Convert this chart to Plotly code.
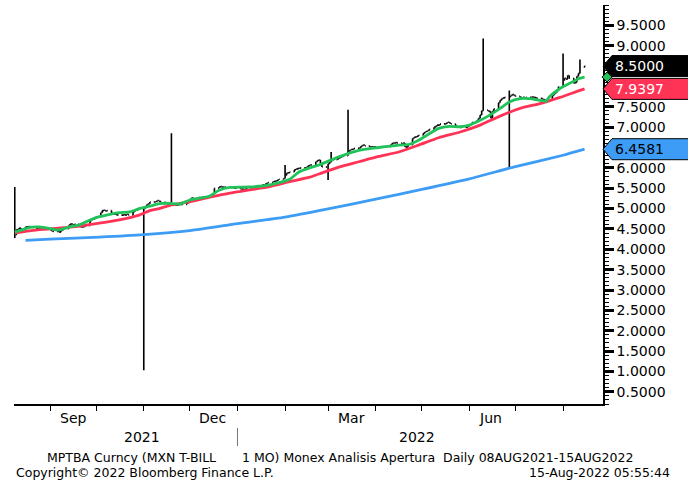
import pandas as pd
import plotly.graph_objects as go

# ---------------- data ----------------
start_date = "2021-08-09"
end_date = "2022-08-15"

# daily closes, one row per week (Mon..Fri)
weekly_closes = [
    [4.35, 4.48, 4.50, 4.52, 4.50],   # Aug 9
    [4.55, 4.55, 4.56, 4.54, 4.55],   # Aug 16
    [4.52, 4.52, 4.53, 4.52, 4.52],   # Aug 23
    [4.52, 4.50, 4.48, 4.45, 4.44],   # Aug 30
    [4.44, 4.42, 4.46, 4.48, 4.50],   # Sep 6
    [4.58, 4.62, 4.62, 4.60, 4.62],   # Sep 13
    [4.56, 4.55, 4.55, 4.56, 4.58],   # Sep 20
    [4.70, 4.75, 4.74, 4.78, 4.80],   # Sep 27
    [4.90, 4.95, 4.96, 4.94, 4.95],   # Oct 4
    [4.88, 4.86, 4.86, 4.85, 4.84],   # Oct 11
    [4.84, 4.85, 4.84, 4.86, 4.84],   # Oct 18
    [4.92, 4.95, 4.96, 4.98, 5.00],   # Oct 25
    [5.00, 5.05, 5.10, 5.12, 5.16],   # Nov 1
    [5.16, 5.18, 5.20, 5.18, 5.16],   # Nov 8
    [5.14, 5.12, 5.10, 5.10, 5.08],   # Nov 15
    [5.08, 5.09, 5.10, 5.10, 5.10],   # Nov 22
    [5.13, 5.15, 5.22, 5.26, 5.26],   # Nov 29
    [5.26, 5.27, 5.26, 5.28, 5.28],   # Dec 6
    [5.30, 5.30, 5.31, 5.36, 5.50],   # Dec 13
    [5.53, 5.54, 5.53, 5.52, 5.53],   # Dec 20
    [5.53, 5.52, 5.52, 5.50, 5.50],   # Dec 27
    [5.48, 5.48, 5.47, 5.48, 5.50],   # Jan 3
    [5.52, 5.53, 5.53, 5.54, 5.55],   # Jan 10
    [5.58, 5.58, 5.60, 5.62, 5.64],   # Jan 17
    [5.66, 5.67, 5.68, 5.70, 5.72],   # Jan 24
    [5.74, 5.82, 5.87, 5.88, 5.90],   # Jan 31
    [5.95, 5.97, 5.98, 5.99, 6.00],   # Feb 7
    [6.00, 6.02, 6.05, 6.07, 6.07],   # Feb 14
    [6.15, 6.18, 6.19, 6.10, 6.02],   # Feb 21
    [6.02, 6.10, 6.14, 6.18, 6.20],   # Feb 28
    [6.22, 6.24, 6.26, 6.28, 6.30],   # Mar 7
    [6.40, 6.43, 6.45, 6.46, 6.48],   # Mar 14
    [6.48, 6.52, 6.55, 6.56, 6.54],   # Mar 21
    [6.52, 6.51, 6.52, 6.51, 6.51],   # Mar 28
    [6.51, 6.52, 6.51, 6.51, 6.52],   # Apr 4
    [6.58, 6.61, 6.61, 6.62, 6.61],   # Apr 11
    [6.60, 6.61, 6.52, 6.51, 6.56],   # Apr 18
    [6.72, 6.75, 6.76, 6.78, 6.80],   # Apr 25
    [6.85, 6.88, 6.90, 6.92, 6.95],   # May 2
    [7.00, 7.02, 7.05, 7.05, 7.08],   # May 9
    [7.08, 7.10, 7.12, 7.10, 7.08],   # May 16
    [7.02, 7.00, 7.00, 6.99, 7.00],   # May 23
    [7.00, 7.02, 7.05, 7.08, 7.12],   # May 30
    [7.17, 7.22, 7.30, 7.40, 7.42],   # Jun 6
    [7.40, 7.38, 7.22, 7.39, 7.45],   # Jun 13
    [7.60, 7.66, 7.70, 7.72, 7.73],   # Jun 20
    [7.75, 7.78, 7.80, 7.78, 7.76],   # Jun 27
    [7.73, 7.72, 7.73, 7.72, 7.73],   # Jul 4
    [7.73, 7.74, 7.73, 7.72, 7.71],   # Jul 11
    [7.70, 7.68, 7.66, 7.66, 7.68],   # Jul 18
    [7.78, 7.82, 7.85, 7.90, 7.99],   # Jul 25
    [8.15, 8.20, 8.18, 8.27, 8.20],   # Aug 1
    [8.08, 8.10, 8.25, 8.32, 8.47],   # Aug 8
    [8.50],                           # Aug 15
]
first_open = 4.45

# intraday outliers
high_spike_dates = ["2021-08-09", "2021-11-19", "2022-02-01", "2022-03-03", "2022-03-14",
                    "2022-06-10", "2022-06-27", "2022-08-01", "2022-08-12"]
high_spike_vals = [5.53, 6.85, 6.07, 6.39, 7.43, 9.18, 7.90, 8.81, 8.66]
low_spike_dates = ["2021-08-09", "2021-11-01", "2022-03-01", "2022-06-27"]
low_spike_vals = [4.28, 1.03, 5.70, 5.97]

# moving averages
green_dates = ["2021-08-09", "2021-08-19", "2021-08-25", "2021-09-01", "2021-09-06", "2021-09-14",
               "2021-09-20", "2021-09-27", "2021-10-03", "2021-10-10", "2021-10-16", "2021-10-23",
               "2021-10-29", "2021-11-05", "2021-11-11", "2021-11-18", "2021-11-24", "2021-12-01",
               "2021-12-14", "2021-12-20", "2021-12-27", "2022-01-09", "2022-01-22", "2022-02-04",
               "2022-02-10", "2022-02-17", "2022-02-23", "2022-03-08", "2022-03-21", "2022-04-03",
               "2022-04-16", "2022-04-23", "2022-04-29", "2022-05-12", "2022-05-19", "2022-05-26",
               "2022-06-01", "2022-06-08", "2022-06-14", "2022-06-21", "2022-06-27", "2022-07-04",
               "2022-07-10", "2022-07-17", "2022-07-21", "2022-07-23", "2022-07-30", "2022-08-05",
               "2022-08-11", "2022-08-15"]
green_vals = [4.42, 4.54, 4.55, 4.51, 4.47, 4.55,
              4.60, 4.72, 4.80, 4.86, 4.90, 4.92,
              5.00, 5.06, 5.12, 5.13, 5.11, 5.21,
              5.31, 5.45, 5.52, 5.53, 5.58, 5.72,
              5.90, 6.00, 6.07, 6.27, 6.43, 6.50,
              6.56, 6.58, 6.68, 6.97, 7.02, 7.01,
              7.05, 7.17, 7.29, 7.46, 7.62, 7.70,
              7.70, 7.66, 7.64, 7.74, 7.95, 8.07,
              8.19, 8.23]

red_dates = ["2021-08-09", "2021-08-20", "2021-09-01", "2021-09-20", "2021-10-03", "2021-10-16",
             "2021-10-29", "2021-11-05", "2021-11-11", "2021-11-18", "2021-12-01", "2021-12-14",
             "2021-12-27", "2022-01-09", "2022-01-22", "2022-02-04", "2022-02-17", "2022-02-23",
             "2022-03-08", "2022-03-21", "2022-04-03", "2022-04-16", "2022-04-29", "2022-05-12",
             "2022-05-26", "2022-06-08", "2022-06-21", "2022-07-04", "2022-07-17", "2022-07-30",
             "2022-08-11", "2022-08-15"]
red_vals = [4.40, 4.46, 4.50, 4.57, 4.64, 4.72,
            4.84, 4.95, 5.00, 5.08, 5.17, 5.28,
            5.38, 5.46, 5.54, 5.66, 5.77, 5.85,
            6.02, 6.15, 6.28, 6.39, 6.56, 6.74,
            6.88, 7.05, 7.27, 7.46, 7.58, 7.73,
            7.89, 7.9397]

blue_dates = ["2021-08-16", "2021-09-01", "2021-10-03", "2021-11-01", "2021-12-01", "2022-01-01",
              "2022-02-01", "2022-03-01", "2022-04-01", "2022-05-01", "2022-06-01", "2022-07-01",
              "2022-08-01", "2022-08-15"]
blue_vals = [4.22, 4.25, 4.30, 4.36, 4.46, 4.63,
             4.79, 4.99, 5.23, 5.47, 5.73, 6.03,
             6.31, 6.4581]

last_close = 8.5000
last_green = 8.23
last_red = 7.9397
last_blue = 6.4581

y_tick_vals = [0.5, 1.0, 1.5, 2.0, 2.5, 3.0, 3.5, 4.0, 4.5, 5.0, 5.5, 6.0, 6.5, 7.0, 7.5, 8.0, 8.5, 9.0, 9.5]
y_tick_text = ["0.5000", "1.0000", "1.5000", "2.0000", "2.5000", "3.0000", "3.5000", "4.0000",
               "4.5000", "5.0000", "5.5000", "6.0000", "", "7.0000", "7.5000", "", "", "9.0000",
               "9.5000"]  # 6.5 / 8.0 / 8.5 are hidden under the value boxes
month_ticks = ["2021-09-01", "2021-10-01", "2021-11-01", "2021-12-01", "2022-01-01", "2022-02-01",
               "2022-03-01", "2022-04-01", "2022-05-01", "2022-06-01", "2022-07-01", "2022-08-01"]
month_labels = ["Sep", "Dec", "Mar", "Jun"]
month_label_dates = ["2021-09-16", "2021-12-16", "2022-03-16", "2022-06-15"]
year_labels = ["2021", "2022"]
year_label_dates = ["2021-10-31", "2022-04-28"]

# ---------------- build OHLC ----------------
dates = pd.bdate_range(start_date, end_date)
close = [v for wk in weekly_closes for v in wk]
assert len(close) == len(dates), (len(close), len(dates))
opens = [first_open] + close[:-1]
highs = [max(o, c) for o, c in zip(opens, close)]
lows = [min(o, c) for o, c in zip(opens, close)]
idx = {d.strftime("%Y-%m-%d"): i for i, d in enumerate(dates)}
for d, v in zip(high_spike_dates, high_spike_vals):
    highs[idx[d]] = max(highs[idx[d]], v)
for d, v in zip(low_spike_dates, low_spike_vals):
    lows[idx[d]] = min(lows[idx[d]], v)

# ---------------- figure ----------------
W, H = 688, 480
ML, MR, MT, MB = 14, 85, 5, 76
PW, PH = W - ML - MR, H - MT - MB
Y0, Y1 = 0.2, 10.0


def px_x(px):
    return (px - ML) / PW


def px_y(py):
    return (H - MB - py) / PH


GREEN = "#22c25a"
RED = "#ff3355"
BLUE = "#3d9cf5"
FONT = "DejaVu Sans"

fig = go.Figure()
fig.add_trace(go.Scatter(x=blue_dates, y=blue_vals, mode="lines",
                         line=dict(color=BLUE, width=2.8, shape="spline", smoothing=0.6),
                         hoverinfo="skip"))
fig.add_trace(go.Scatter(x=red_dates, y=red_vals, mode="lines",
                         line=dict(color=RED, width=2.8, shape="spline", smoothing=0.6),
                         hoverinfo="skip"))
fig.add_trace(go.Scatter(x=green_dates, y=green_vals, mode="lines",
                         line=dict(color=GREEN, width=2.8, shape="spline", smoothing=0.6),
                         hoverinfo="skip"))
fig.add_trace(go.Ohlc(x=dates, open=opens, high=highs, low=lows, close=close,
                      increasing=dict(line=dict(color="#000000", width=1.6)),
                      decreasing=dict(line=dict(color="#000000", width=1.6)),
                      tickwidth=0.5))

shapes = []
annotations = []

# right-hand value boxes
half = 10.5 / PH * (Y1 - Y0)
for val, fill, txtcol in [(last_blue, BLUE, "#000000"), (last_red, RED, "#ffffff"),
                          (last_close, "#000000", "#ffffff")]:
    x0, x1, x2 = px_x(603), px_x(612), px_x(700)
    path = (f"M {x0} {val} L {x1} {val + half} L {x2} {val + half} "
            f"L {x2} {val - half} L {x1} {val - half} Z")
    shapes.append(dict(type="path", path=path, xref="paper", yref="y", fillcolor=fill,
                       line=dict(color="#000000", width=1), layer="above"))
    annotations.append(dict(x=px_x(613), y=val, xref="paper", yref="y", text=f"{val:.4f}",
                            showarrow=False, xanchor="left", yanchor="middle",
                            font=dict(family=FONT, size=14, color=txtcol)))

# green diamond marker on the axis (last value of the short moving average)
dh = 5 / PH * (Y1 - Y0)
dx0, dxm, dx1 = px_x(602), px_x(607), px_x(612)
shapes.append(dict(type="path", xref="paper", yref="y", layer="above",
                   path=(f"M {dx0} {last_green} L {dxm} {last_green + dh} "
                         f"L {dx1} {last_green} L {dxm} {last_green - dh} Z"),
                   fillcolor=GREEN, line=dict(color="#000000", width=1)))

# year separator
shapes.append(dict(type="line", xref="x", yref="paper", x0="2022-01-01", x1="2022-01-01",
                   y0=px_y(428), y1=px_y(446), line=dict(color="#777777", width=1)))

for lab, d in zip(month_labels, month_label_dates):
    annotations.append(dict(x=d, y=px_y(418), xref="x", yref="paper", text=lab, showarrow=False,
                            xanchor="center", yanchor="middle",
                            font=dict(family=FONT, size=14, color="#000000")))
for lab, d in zip(year_labels, year_label_dates):
    annotations.append(dict(x=d, y=px_y(437), xref="x", yref="paper", text=lab, showarrow=False,
                            xanchor="center", yanchor="middle",
                            font=dict(family=FONT, size=14, color="#000000")))

foot = dict(family=FONT, size=12.5, color="#000000")
annotations.append(dict(x=px_x(45), y=px_y(457), xref="paper", yref="paper",
                        text="MPTBA Curncy (MXN T-BILL", showarrow=False,
                        xanchor="left", yanchor="middle", font=foot))
annotations.append(dict(x=px_x(240), y=px_y(457), xref="paper", yref="paper",
                        text="1 MO) Monex Analisis Apertura  Daily 08AUG2021-15AUG2022",
                        showarrow=False, xanchor="left", yanchor="middle", font=foot))
annotations.append(dict(x=px_x(14), y=px_y(472), xref="paper", yref="paper",
                        text="Copyright\u00a9 2022 Bloomberg Finance L.P.", showarrow=False,
                        xanchor="left", yanchor="middle", font=foot))
annotations.append(dict(x=px_x(672), y=px_y(472), xref="paper", yref="paper",
                        text="15-Aug-2022 05:55:44", showarrow=False,
                        xanchor="right", yanchor="middle", font=foot))

fig.update_layout(
    width=W, height=H,
    margin=dict(l=ML, r=MR, t=MT, b=MB, pad=0),
    paper_bgcolor="#ffffff", plot_bgcolor="#ffffff",
    showlegend=False,
    shapes=shapes, annotations=annotations,
    xaxis=dict(type="date", range=["2021-08-08 12:00", "2022-08-27"],
               rangeslider=dict(visible=False),
               tickmode="array", tickvals=month_ticks, showticklabels=False,
               ticks="outside", ticklen=5, tickwidth=1, tickcolor="#000000",
               showline=True, linecolor="#000000", linewidth=1.5,
               showgrid=False, zeroline=False),
    yaxis=dict(side="right", range=[Y0, Y1], tickmode="array", tickvals=y_tick_vals,
               ticktext=y_tick_text, ticks="outside", ticklen=9, tickwidth=2.5,
               tickcolor="#000000",
               minor=dict(dtick=0.1, tick0=0, ticks="outside", ticklen=4, tickwidth=1,
                          tickcolor="#000000", showgrid=False),
               showline=True, linecolor="#000000", linewidth=1.5,
               showgrid=False, zeroline=False,
               tickfont=dict(family=FONT, size=14, color="#000000")),
)

fig.write_html("out.html", config={"displayModeBar": False},
               post_script="document.body.style.margin='0';document.body.style.padding='0';")
